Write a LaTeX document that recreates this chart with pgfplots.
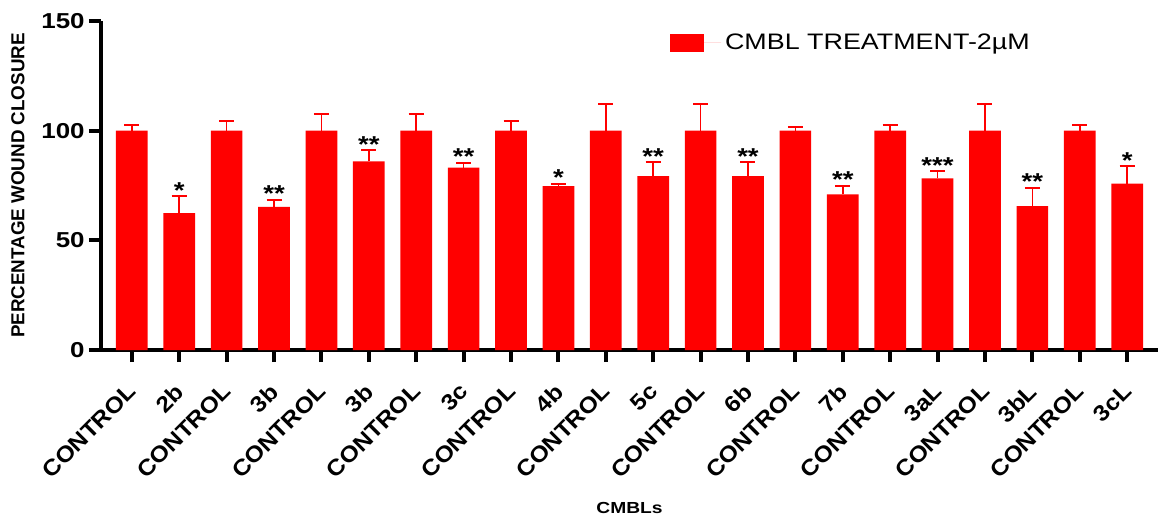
\documentclass[border=0pt]{standalone}
\usepackage{fontspec}
\setmainfont{Liberation Sans}[FakeStretch=1.2]
\newfontfamily\plainsans{Liberation Sans}
\newfontfamily\xfont{Liberation Sans}[FakeStretch=1.1]
\usepackage{pgfplots}
\usepackage{pgfplotstable}
\pgfplotsset{compat=1.18}

\pgfplotstableread{
x y err
0 100 2.7
2 100 4.6
4 100 7.8
6 100 7.8
8 100 4.6
10 100 12
12 100 12
14 100 1.8
16 100 2.8
18 100 12
20 100 2.8
}\controls

\pgfplotstableread{
x y err star
1 62.4 7.6 *
3 65.2 3.4 **
5 86.0 5.0 **
7 83.1 2.0 **
9 74.7 1.0 *
11 79.3 6.2 **
13 79.3 6.2 **
15 70.9 4.0 **
17 78.2 3.2 ***
19 65.6 8.4 **
21 75.8 7.9 *
}\treat

\begin{document}
\begin{tikzpicture}
\useasboundingbox (-50.5pt,-85pt) rectangle (528.5pt,175pt);
\begin{axis}[
  at={(0pt,0pt)}, anchor=south west,
  scale only axis,
  width=528.5pt, height=164.5pt,
  xmin=-0.65, xmax=21.65,
  ymin=0, ymax=150,
  ytick={0,50,100,150},
  xtick={0,...,21},
  xticklabels={CONTROL,2b,CONTROL,3b,CONTROL,3b,CONTROL,3c,CONTROL,4b,CONTROL,5c,CONTROL,6b,CONTROL,7b,CONTROL,3aL,CONTROL,3bL,CONTROL,3cL},
  axis x line*=bottom, axis y line*=left,
  axis line style={line width=2pt,-},
  tick align=outside,
  major tick length=6pt,
  every tick/.style={line width=2pt, black},
  /pgf/number format/assume math mode=true,
  yticklabel style={font=\bfseries\fontsize{10.8}{12}\selectfont, inner sep=0pt, xshift=-2pt},
  xticklabel style={font=\xfont\bfseries\fontsize{11.2}{13}\selectfont, rotate=45, anchor=north east, inner sep=0pt, xshift=-8.8pt, yshift=-5.1pt},
  ylabel={PERCENTAGE WOUND CLOSURE},
  ylabel style={at={(axis description cs:-0.0785,0.5)}, anchor=center, rotate=0, font=\plainsans\bfseries\fontsize{9.4}{11}\selectfont},
  xlabel={CMBLs},
  xlabel style={at={(axis description cs:0.5,-0.48)}, anchor=center, font=\bfseries\fontsize{8}{10}\selectfont},
  legend style={draw=none, fill=none, at={(axis description cs:0.538,0.975)}, anchor=north west, inner sep=0pt, font=\fontsize{11.2}{13}\selectfont},
  legend cell align=left,
  legend image code/.code={\path (0pt,0pt) -- (25.5pt,0pt);\fill[red] (0pt,-4.5pt) rectangle (17pt,4.5pt);},
  clip=false,
]
\addplot[ybar, bar width=15.85pt, bar shift=0pt, fill=red, draw=none,
  error bars/.cd, y dir=plus, y explicit,
  error bar style={red, line width=0.8pt},
  error mark options={rotate=90, red, mark size=3.75pt, line width=1pt}]
  table[x=x, y=y, y error=err] {\controls};
\addlegendentry{CMBL TREATMENT-2µM}
\addplot[ybar, bar width=15.85pt, bar shift=0pt, fill=red, draw=none, forget plot,
  error bars/.cd, y dir=plus, y explicit,
  error bar style={red, line width=0.8pt},
  error mark options={rotate=90, red, mark size=3.75pt, line width=1pt}]
  table[x=x, y=y, y error=err] {\treat};
\addplot[draw=none, mark=none, forget plot,
  nodes near coords, point meta=explicit symbolic,
  nodes near coords style={anchor=south, inner sep=0pt, yshift=-1pt, font=\bfseries\fontsize{11.5}{12}\selectfont}]
  table[x=x, y expr=\thisrow{y}+\thisrow{err}, meta=star] {\treat};
\end{axis}
\end{tikzpicture}
\end{document}
